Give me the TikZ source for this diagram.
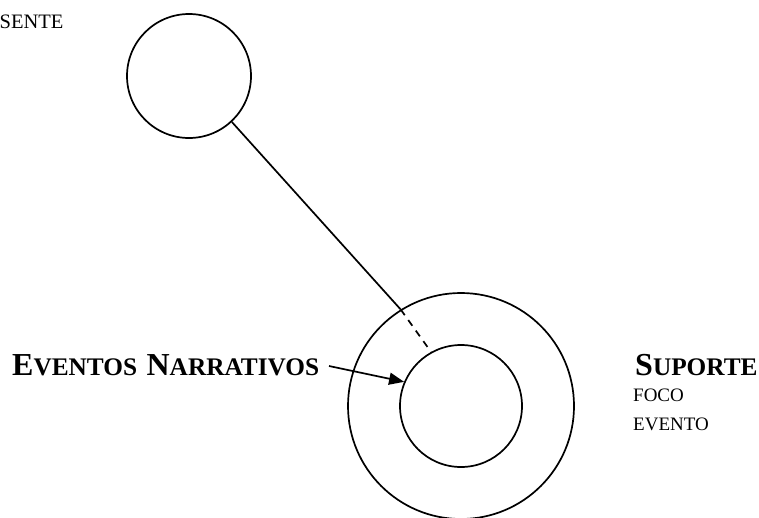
\documentclass[tikz,border=0pt]{standalone}
\usepackage{fontspec}
\setmainfont{Liberation Serif}
\usetikzlibrary{arrows.meta}
\newcommand\bigsc[2]{{\fontsize{32}{32}\selectfont #1}{\fontsize{25.3}{25.3}\selectfont #2}}
\tikzset{
  ring/.style={circle,draw,line width=1.7pt,inner sep=0pt,minimum size=#1},
  lbl/.style={inner sep=0pt,anchor=base west,font=\bfseries},
  sub/.style={inner sep=0pt,anchor=base west,font=\fontsize{19}{19}\selectfont},
  conn/.style={line width=1.7pt},
  pointer/.style={line width=1.7pt,-{Triangle[length=15pt,width=12pt]}}
}
\begin{document}
\begin{tikzpicture}[x=1pt,y=-1pt]
\useasboundingbox (0,0) rectangle (759,517);
\node[ring=124pt] (top) at (189,76) {};
\node[ring=226pt] (outer) at (461,406) {};
\node[ring=122pt] (inner) at (461,406) {};
\node[sub,font=\fontsize{20.5}{20.5}\selectfont] (sente) at (-0.5,28) {SENTE};
\node[lbl] (ev) at (12,375) {\bigsc{E}{VENTOS}\hspace{9.5pt}\bigsc{N}{ARRATIVOS}};
\node[lbl] (sup) at (635,375) {\bigsc{S}{UPORTE}};
\node[sub] (foco) at (633,401) {FOCO};
\node[sub] (evento) at (633,430) {EVENTO};
\coordinate (cut) at (outer.122);
\coordinate (pstart) at (329,366);
\draw[conn] (top.-47) -- (cut);
\draw[conn,dash pattern=on 7pt off 6pt] (cut) -- (inner.119);
\draw[pointer] (pstart) -- (inner.157);
\end{tikzpicture}
\end{document}
